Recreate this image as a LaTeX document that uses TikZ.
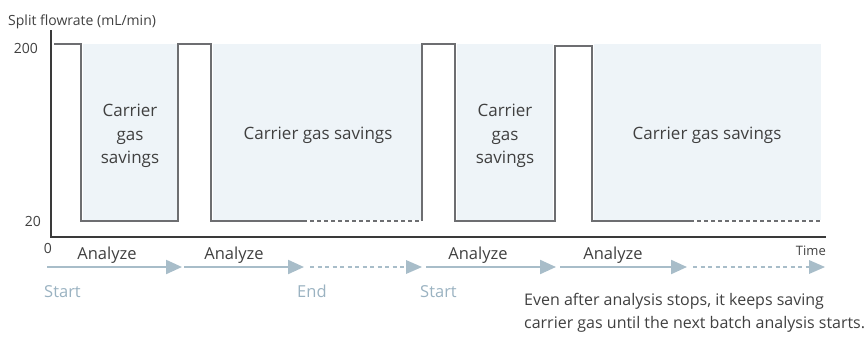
\documentclass[tikz,border=0pt]{standalone}
\usepackage{fontspec}
\setmainfont{Open Sans}
\usetikzlibrary{arrows.meta}
\definecolor{wavegray}{HTML}{6D6E71}
\definecolor{axisgray}{HTML}{3A3A3A}
\definecolor{savefill}{HTML}{EEF4F8}
\definecolor{flowblue}{HTML}{A8BDC9}
\definecolor{textgray}{HTML}{404040}
\definecolor{labelblue}{HTML}{9AB2C1}
\tikzset{
  wave/.style={draw=wavegray, line width=2.6pt, line join=miter},
  wavedots/.style={wave, dash pattern=on 4pt off 3pt},
  axisline/.style={draw=axisgray, line width=1.3pt},
  savebox/.style={fill=savefill},
  flow/.style={draw=flowblue, line width=2.2pt, -{Triangle[length=16pt,width=14pt]}},
  flowdash/.style={draw=flowblue, line width=1.6pt, dash pattern=on 4pt off 3.5pt, -{Triangle[length=16pt,width=14pt,line width=0pt]}},
  savetext/.style={text=textgray, font=\fontsize{17}{23.5}\selectfont, align=center, inner sep=0pt},
  steptext/.style={text=textgray, font=\fontsize{16.5}{20}\selectfont, inner sep=0pt},
  marktext/.style={text=labelblue, font=\fontsize{16.5}{20}\selectfont, inner sep=0pt},
  ticktext/.style={text=textgray, font=\fontsize{14}{17}\selectfont, inner sep=0pt},
  notetext/.style={text=textgray, font=\fontsize{16}{22}\selectfont, inner sep=0pt},
}
\begin{document}
\begin{tikzpicture}[x=1pt,y=-1pt]
\useasboundingbox (0,0) rectangle (867,338);

% shaded savings regions
\fill[savebox] (83,44) rectangle (177,220);
\fill[savebox] (213,44) rectangle (421,220);
\fill[savebox] (457,44) rectangle (553,220);
\fill[savebox] (594,44) rectangle (821,220);

% split flow waveform
\draw[wave] (54,44) -- (81,44) -- (81,221) -- (178,221) -- (178,44) -- (211,44) -- (211,221) -- (303,221);
\draw[wavedots] (303,221) -- (421,221);
\draw[wave] (422,221) -- (422,44) -- (455,44) -- (455,221) -- (555,221) -- (555,46) -- (592,46) -- (592,221) -- (690,221);
\draw[wavedots] (690,221) -- (820,221);

% axes
\draw[axisline] (51,30) -- (51,237) -- (826,237);

% axis labels
\node[ticktext, anchor=base west] (ylab) at (8,25) {Split flowrate (mL/min)};
\node[ticktext, anchor=east] (y200) at (38,48) {200};
\node[ticktext, anchor=east] (y20) at (41,221) {20};
\node[ticktext, anchor=center] (x0) at (48,248) {0};
\node[ticktext, anchor=base east, font=\fontsize{13}{15}\selectfont] (xtime) at (826,255) {Time};

% savings labels
\node[savetext] (s1) at (130,136) {Carrier\\gas\\savings};
\node[savetext, anchor=base] (s2) at (318,139) {Carrier gas savings};
\node[savetext] (s3) at (505,136) {Carrier\\gas\\savings};
\node[savetext, anchor=base] (s4) at (707,139) {Carrier gas savings};

% sequence timeline
\coordinate (p0) at (47,267);
\coordinate (p1) at (182,267);
\coordinate (q1) at (184,267);
\coordinate (p2) at (304,267);
\coordinate (q2) at (310,267);
\coordinate (p3) at (422,267);
\coordinate (q3) at (426,267);
\coordinate (p4) at (556,267);
\coordinate (q4) at (560,267);
\coordinate (p5) at (687,267);
\coordinate (q5) at (693,267);
\coordinate (p6) at (825,267);
\draw[flow] (p0) -- (p1);
\draw[flow] (q1) -- (p2);
\draw[flowdash] (q2) -- (p3);
\draw[flow] (q3) -- (p4);
\draw[flow] (q4) -- (p5);
\draw[flowdash] (q5) -- (p6);

\node[steptext, anchor=base] (an1) at (107,259) {Analyze};
\node[steptext, anchor=base] (an2) at (234,259) {Analyze};
\node[steptext, anchor=base] (an3) at (478,259) {Analyze};
\node[steptext, anchor=base] (an4) at (613,259) {Analyze};

\node[marktext, anchor=base west] (st1) at (44,297) {Start};
\node[marktext, anchor=base west] (en1) at (297,297) {End};
\node[marktext, anchor=base west] (st2) at (420,297) {Start};

\node[notetext, anchor=base west] (note1) at (524,305) {Even after analysis stops, it keeps saving};
\node[notetext, anchor=base west] (note2) at (524,328) {carrier gas until the next batch analysis starts.};
\end{tikzpicture}
\end{document}
